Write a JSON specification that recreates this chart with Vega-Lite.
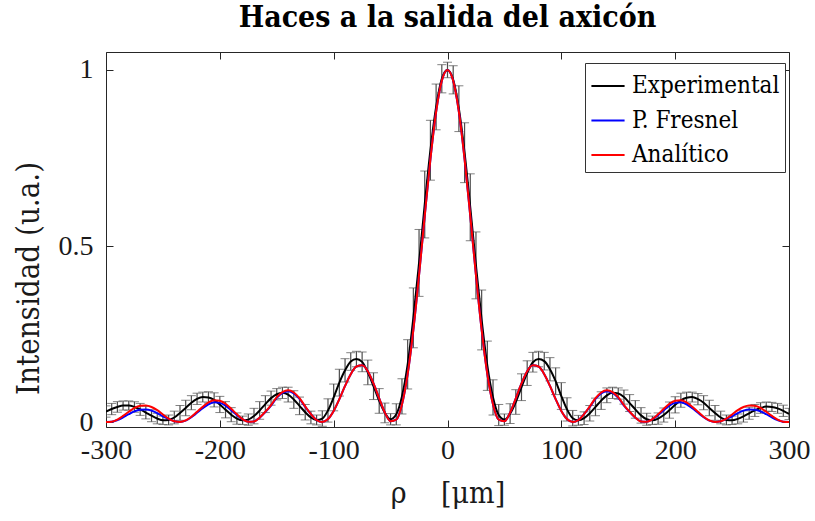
{
  "$schema": "https://vega.github.io/schema/vega-lite/v6.json",
  "width": 683,
  "height": 375,
  "autosize": {"type": "none"},
  "padding": {"left": 106, "top": 52, "right": 26, "bottom": 94},
  "background": "white",
  "config": {
    "font": "DejaVu Serif Condensed, DejaVu Serif",
    "view": {"stroke": "#262626", "strokeWidth": 1},
    "axis": {"grid": false, "domain": false, "tickColor": "#262626", "labelColor": "#1a1a1a", "titleColor": "#1a1a1a", "labelFont": "Liberation Serif", "titleFont": "DejaVu Serif Condensed, DejaVu Serif", "titleFontWeight": "normal", "labelFlush": false, "labelOverlap": false}
  },
  "title": {
    "text": "Haces a la salida del axicón",
    "font": "DejaVu Serif Condensed, DejaVu Serif",
    "fontSize": 30,
    "fontWeight": "bold",
    "color": "#000000",
    "anchor": "middle",
    "baseline": "alphabetic",
    "frame": "group",
    "offset": -5
  },
  "data": {
    "values": [
      {"rho": -300, "exp": 0.030, "err": 0.016, "fresnel": 0.0002, "analitico": 0.0002},
      {"rho": -295, "exp": 0.037, "err": 0.016, "fresnel": 0.0008, "analitico": 0.0011},
      {"rho": -290, "exp": 0.043, "err": 0.015, "fresnel": 0.0055, "analitico": 0.0072},
      {"rho": -285, "exp": 0.047, "err": 0.013, "fresnel": 0.0133, "analitico": 0.0175},
      {"rho": -280, "exp": 0.047, "err": 0.013, "fresnel": 0.0223, "analitico": 0.0293},
      {"rho": -275, "exp": 0.043, "err": 0.015, "fresnel": 0.0304, "analitico": 0.0400},
      {"rho": -270, "exp": 0.036, "err": 0.017, "fresnel": 0.0350, "analitico": 0.0461},
      {"rho": -265, "exp": 0.027, "err": 0.018, "fresnel": 0.0358, "analitico": 0.0471},
      {"rho": -260, "exp": 0.018, "err": 0.017, "fresnel": 0.0325, "analitico": 0.0428},
      {"rho": -255, "exp": 0.010, "err": 0.015, "fresnel": 0.0256, "analitico": 0.0337},
      {"rho": -250, "exp": 0.005, "err": 0.012, "fresnel": 0.0164, "analitico": 0.0216},
      {"rho": -245, "exp": 0.006, "err": 0.014, "fresnel": 0.0090, "analitico": 0.0100},
      {"rho": -240, "exp": 0.013, "err": 0.018, "fresnel": 0.0021, "analitico": 0.0023},
      {"rho": -235, "exp": 0.026, "err": 0.021, "fresnel": 0.0001, "analitico": 0.0001},
      {"rho": -230, "exp": 0.040, "err": 0.022, "fresnel": 0.0041, "analitico": 0.0046},
      {"rho": -225, "exp": 0.055, "err": 0.020, "fresnel": 0.0138, "analitico": 0.0153},
      {"rho": -220, "exp": 0.066, "err": 0.016, "fresnel": 0.0264, "analitico": 0.0293},
      {"rho": -215, "exp": 0.071, "err": 0.014, "fresnel": 0.0393, "analitico": 0.0437},
      {"rho": -210, "exp": 0.070, "err": 0.016, "fresnel": 0.0504, "analitico": 0.0560},
      {"rho": -205, "exp": 0.063, "err": 0.020, "fresnel": 0.0560, "analitico": 0.0622},
      {"rho": -200, "exp": 0.050, "err": 0.023, "fresnel": 0.0545, "analitico": 0.0605},
      {"rho": -195, "exp": 0.035, "err": 0.023, "fresnel": 0.0468, "analitico": 0.0520},
      {"rho": -190, "exp": 0.021, "err": 0.020, "fresnel": 0.0338, "analitico": 0.0376},
      {"rho": -185, "exp": 0.010, "err": 0.016, "fresnel": 0.0197, "analitico": 0.0219},
      {"rho": -180, "exp": 0.005, "err": 0.012, "fresnel": 0.0080, "analitico": 0.0082},
      {"rho": -175, "exp": 0.007, "err": 0.016, "fresnel": 0.0006, "analitico": 0.0006},
      {"rho": -170, "exp": 0.017, "err": 0.022, "fresnel": 0.0017, "analitico": 0.0018},
      {"rho": -165, "exp": 0.033, "err": 0.025, "fresnel": 0.0125, "analitico": 0.0129},
      {"rho": -160, "exp": 0.051, "err": 0.024, "fresnel": 0.0286, "analitico": 0.0295},
      {"rho": -155, "exp": 0.068, "err": 0.020, "fresnel": 0.0469, "analitico": 0.0484},
      {"rho": -150, "exp": 0.079, "err": 0.016, "fresnel": 0.0688, "analitico": 0.0709},
      {"rho": -145, "exp": 0.083, "err": 0.016, "fresnel": 0.0827, "analitico": 0.0853},
      {"rho": -140, "exp": 0.078, "err": 0.021, "fresnel": 0.0874, "analitico": 0.0901},
      {"rho": -135, "exp": 0.064, "err": 0.025, "fresnel": 0.0816, "analitico": 0.0841},
      {"rho": -130, "exp": 0.046, "err": 0.025, "fresnel": 0.0657, "analitico": 0.0677},
      {"rho": -125, "exp": 0.028, "err": 0.022, "fresnel": 0.0433, "analitico": 0.0446},
      {"rho": -120, "exp": 0.013, "err": 0.018, "fresnel": 0.0227, "analitico": 0.0227},
      {"rho": -115, "exp": 0.006, "err": 0.014, "fresnel": 0.0059, "analitico": 0.0059},
      {"rho": -110, "exp": 0.010, "err": 0.022, "fresnel": 0.0000, "analitico": 0.0000},
      {"rho": -105, "exp": 0.033, "err": 0.033, "fresnel": 0.0085, "analitico": 0.0085},
      {"rho": -100, "exp": 0.070, "err": 0.038, "fresnel": 0.0315, "analitico": 0.0315},
      {"rho": -95, "exp": 0.112, "err": 0.038, "fresnel": 0.0652, "analitico": 0.0652},
      {"rho": -90, "exp": 0.147, "err": 0.033, "fresnel": 0.1028, "analitico": 0.1028},
      {"rho": -85, "exp": 0.172, "err": 0.025, "fresnel": 0.1360, "analitico": 0.1360},
      {"rho": -80, "exp": 0.179, "err": 0.022, "fresnel": 0.1577, "analitico": 0.1577},
      {"rho": -75, "exp": 0.171, "err": 0.028, "fresnel": 0.1611, "analitico": 0.1611},
      {"rho": -70, "exp": 0.141, "err": 0.035, "fresnel": 0.1445, "analitico": 0.1445},
      {"rho": -65, "exp": 0.102, "err": 0.038, "fresnel": 0.1096, "analitico": 0.1096},
      {"rho": -60, "exp": 0.060, "err": 0.035, "fresnel": 0.0676, "analitico": 0.0676},
      {"rho": -55, "exp": 0.026, "err": 0.028, "fresnel": 0.0268, "analitico": 0.0268},
      {"rho": -50, "exp": 0.008, "err": 0.016, "fresnel": 0.0023, "analitico": 0.0023},
      {"rho": -45, "exp": 0.022, "err": 0.030, "fresnel": 0.0067, "analitico": 0.0067},
      {"rho": -40, "exp": 0.073, "err": 0.050, "fresnel": 0.0501, "analitico": 0.0501},
      {"rho": -35, "exp": 0.164, "err": 0.070, "fresnel": 0.1362, "analitico": 0.1362},
      {"rho": -30, "exp": 0.296, "err": 0.085, "fresnel": 0.2620, "analitico": 0.2620},
      {"rho": -25, "exp": 0.452, "err": 0.095, "fresnel": 0.4171, "analitico": 0.4171},
      {"rho": -20, "exp": 0.618, "err": 0.095, "fresnel": 0.5855, "analitico": 0.5855},
      {"rho": -15, "exp": 0.772, "err": 0.085, "fresnel": 0.7467, "analitico": 0.7467},
      {"rho": -10, "exp": 0.895, "err": 0.065, "fresnel": 0.8807, "analitico": 0.8807},
      {"rho": -5, "exp": 0.975, "err": 0.040, "fresnel": 0.9691, "analitico": 0.9691},
      {"rho": 0, "exp": 1.000, "err": 0.022, "fresnel": 1.0000, "analitico": 1.0000},
      {"rho": 5, "exp": 0.972, "err": 0.040, "fresnel": 0.9691, "analitico": 0.9691},
      {"rho": 10, "exp": 0.890, "err": 0.065, "fresnel": 0.8807, "analitico": 0.8807},
      {"rho": 15, "exp": 0.765, "err": 0.085, "fresnel": 0.7467, "analitico": 0.7467},
      {"rho": 20, "exp": 0.610, "err": 0.095, "fresnel": 0.5855, "analitico": 0.5855},
      {"rho": 25, "exp": 0.445, "err": 0.095, "fresnel": 0.4171, "analitico": 0.4171},
      {"rho": 30, "exp": 0.290, "err": 0.085, "fresnel": 0.2620, "analitico": 0.2620},
      {"rho": 35, "exp": 0.160, "err": 0.070, "fresnel": 0.1362, "analitico": 0.1362},
      {"rho": 40, "exp": 0.070, "err": 0.050, "fresnel": 0.0501, "analitico": 0.0501},
      {"rho": 45, "exp": 0.020, "err": 0.030, "fresnel": 0.0067, "analitico": 0.0067},
      {"rho": 50, "exp": 0.007, "err": 0.016, "fresnel": 0.0023, "analitico": 0.0023},
      {"rho": 55, "exp": 0.024, "err": 0.028, "fresnel": 0.0268, "analitico": 0.0268},
      {"rho": 60, "exp": 0.057, "err": 0.035, "fresnel": 0.0676, "analitico": 0.0676},
      {"rho": 65, "exp": 0.099, "err": 0.038, "fresnel": 0.1096, "analitico": 0.1096},
      {"rho": 70, "exp": 0.139, "err": 0.035, "fresnel": 0.1445, "analitico": 0.1445},
      {"rho": 75, "exp": 0.170, "err": 0.028, "fresnel": 0.1611, "analitico": 0.1611},
      {"rho": 80, "exp": 0.179, "err": 0.022, "fresnel": 0.1577, "analitico": 0.1577},
      {"rho": 85, "exp": 0.173, "err": 0.025, "fresnel": 0.1360, "analitico": 0.1360},
      {"rho": 90, "exp": 0.150, "err": 0.033, "fresnel": 0.1028, "analitico": 0.1028},
      {"rho": 95, "exp": 0.116, "err": 0.038, "fresnel": 0.0652, "analitico": 0.0652},
      {"rho": 100, "exp": 0.074, "err": 0.038, "fresnel": 0.0315, "analitico": 0.0315},
      {"rho": 105, "exp": 0.036, "err": 0.033, "fresnel": 0.0085, "analitico": 0.0085},
      {"rho": 110, "exp": 0.011, "err": 0.022, "fresnel": 0.0000, "analitico": 0.0000},
      {"rho": 115, "exp": 0.005, "err": 0.014, "fresnel": 0.0059, "analitico": 0.0059},
      {"rho": 120, "exp": 0.011, "err": 0.018, "fresnel": 0.0227, "analitico": 0.0227},
      {"rho": 125, "exp": 0.025, "err": 0.022, "fresnel": 0.0433, "analitico": 0.0446},
      {"rho": 130, "exp": 0.043, "err": 0.025, "fresnel": 0.0657, "analitico": 0.0677},
      {"rho": 135, "exp": 0.061, "err": 0.025, "fresnel": 0.0816, "analitico": 0.0841},
      {"rho": 140, "exp": 0.076, "err": 0.021, "fresnel": 0.0874, "analitico": 0.0901},
      {"rho": 145, "exp": 0.083, "err": 0.016, "fresnel": 0.0827, "analitico": 0.0853},
      {"rho": 150, "exp": 0.081, "err": 0.016, "fresnel": 0.0688, "analitico": 0.0709},
      {"rho": 155, "exp": 0.071, "err": 0.020, "fresnel": 0.0469, "analitico": 0.0484},
      {"rho": 160, "exp": 0.054, "err": 0.024, "fresnel": 0.0286, "analitico": 0.0295},
      {"rho": 165, "exp": 0.036, "err": 0.025, "fresnel": 0.0125, "analitico": 0.0129},
      {"rho": 170, "exp": 0.019, "err": 0.022, "fresnel": 0.0017, "analitico": 0.0018},
      {"rho": 175, "exp": 0.008, "err": 0.017, "fresnel": 0.0006, "analitico": 0.0006},
      {"rho": 180, "exp": 0.005, "err": 0.012, "fresnel": 0.0080, "analitico": 0.0082},
      {"rho": 185, "exp": 0.010, "err": 0.016, "fresnel": 0.0197, "analitico": 0.0219},
      {"rho": 190, "exp": 0.020, "err": 0.020, "fresnel": 0.0338, "analitico": 0.0376},
      {"rho": 195, "exp": 0.034, "err": 0.023, "fresnel": 0.0468, "analitico": 0.0520},
      {"rho": 200, "exp": 0.049, "err": 0.023, "fresnel": 0.0545, "analitico": 0.0605},
      {"rho": 205, "exp": 0.062, "err": 0.020, "fresnel": 0.0560, "analitico": 0.0622},
      {"rho": 210, "exp": 0.069, "err": 0.016, "fresnel": 0.0504, "analitico": 0.0560},
      {"rho": 215, "exp": 0.071, "err": 0.014, "fresnel": 0.0393, "analitico": 0.0437},
      {"rho": 220, "exp": 0.065, "err": 0.016, "fresnel": 0.0264, "analitico": 0.0293},
      {"rho": 225, "exp": 0.055, "err": 0.020, "fresnel": 0.0138, "analitico": 0.0153},
      {"rho": 230, "exp": 0.040, "err": 0.022, "fresnel": 0.0041, "analitico": 0.0046},
      {"rho": 235, "exp": 0.026, "err": 0.021, "fresnel": 0.0001, "analitico": 0.0001},
      {"rho": 240, "exp": 0.013, "err": 0.018, "fresnel": 0.0021, "analitico": 0.0023},
      {"rho": 245, "exp": 0.006, "err": 0.014, "fresnel": 0.0090, "analitico": 0.0100},
      {"rho": 250, "exp": 0.005, "err": 0.012, "fresnel": 0.0164, "analitico": 0.0216},
      {"rho": 255, "exp": 0.009, "err": 0.014, "fresnel": 0.0256, "analitico": 0.0337},
      {"rho": 260, "exp": 0.016, "err": 0.016, "fresnel": 0.0325, "analitico": 0.0428},
      {"rho": 265, "exp": 0.025, "err": 0.017, "fresnel": 0.0358, "analitico": 0.0471},
      {"rho": 270, "exp": 0.033, "err": 0.017, "fresnel": 0.0350, "analitico": 0.0461},
      {"rho": 275, "exp": 0.040, "err": 0.015, "fresnel": 0.0304, "analitico": 0.0400},
      {"rho": 280, "exp": 0.044, "err": 0.013, "fresnel": 0.0223, "analitico": 0.0293},
      {"rho": 285, "exp": 0.043, "err": 0.013, "fresnel": 0.0133, "analitico": 0.0175},
      {"rho": 290, "exp": 0.039, "err": 0.014, "fresnel": 0.0055, "analitico": 0.0072},
      {"rho": 295, "exp": 0.032, "err": 0.016, "fresnel": 0.0008, "analitico": 0.0011},
      {"rho": 300, "exp": 0.023, "err": 0.016, "fresnel": 0.0002, "analitico": 0.0002}
    ]
  },
  "resolve": {"axis": {"x": "independent", "y": "independent"}},
  "layer": [
    {
      "layer": [
        {
          "mark": {"type": "errorbar", "ticks": {"size": 9, "color": "#4d4d4d"}, "rule": {"color": "#4d4d4d", "strokeWidth": 1.2}, "clip": true},
          "encoding": {
            "x": {"field": "rho", "type": "quantitative", "title": "ρ\u00a0\u00a0\u00a0\u00a0[μm]"},
            "y": {"field": "exp", "type": "quantitative", "title": "Intensidad (u.a.)"},
            "yError": {"field": "err"}
          }
        },
        {
          "mark": {"type": "line", "strokeWidth": 2, "interpolate": "monotone", "clip": true},
          "encoding": {
            "x": {"field": "rho", "type": "quantitative", "title": "ρ\u00a0\u00a0\u00a0\u00a0[μm]"},
            "y": {"field": "exp", "type": "quantitative", "title": "Intensidad (u.a.)"},
            "color": {"datum": "Experimental"}
          }
        },
        {
          "mark": {"type": "line", "strokeWidth": 2, "interpolate": "monotone", "clip": true},
          "encoding": {
            "x": {"field": "rho", "type": "quantitative", "title": "ρ\u00a0\u00a0\u00a0\u00a0[μm]"},
            "y": {"field": "fresnel", "type": "quantitative", "title": "Intensidad (u.a.)"},
            "color": {"datum": "P. Fresnel"}
          }
        },
        {
          "mark": {"type": "line", "strokeWidth": 2, "interpolate": "monotone", "clip": true},
          "encoding": {
            "x": {
              "field": "rho", "type": "quantitative", "title": "ρ\u00a0\u00a0\u00a0\u00a0[μm]",
              "scale": {"domain": [-300, 300], "nice": false, "zero": false},
              "axis": {"orient": "bottom", "values": [-300, -200, -100, 0, 100, 200, 300], "labelExpr": "datum.value < 0 ? '-' + abs(datum.value) : '' + datum.value", "tickSize": -7, "labelPadding": 16, "labelFontSize": 28, "titleFontSize": 30, "titlePadding": 14}
            },
            "y": {
              "field": "analitico", "type": "quantitative", "title": "Intensidad (u.a.)",
              "scale": {"domain": [-0.014, 1.051], "nice": false, "zero": false},
              "axis": {"orient": "left", "values": [0, 0.5, 1], "format": "~g", "tickSize": -7, "labelPadding": 20, "labelFontSize": 28, "titleFontSize": 31, "titleX": -77, "titleY": 226, "titleAngle": 270, "titleAlign": "center", "titleBaseline": "middle"}
            },
            "color": {
              "datum": "Analítico",
              "scale": {"domain": ["Experimental", "P. Fresnel", "Analítico"], "range": ["#000000", "#0000ff", "#ff0000"]},
              "legend": {
                "title": null, "orient": "none", "legendX": 479, "legendY": 11,
                "symbolType": "stroke", "symbolSize": 1100, "symbolStrokeWidth": 2,
                "labelFontSize": 24, "labelFont": "DejaVu Serif Condensed, DejaVu Serif", "labelColor": "#000000", "labelOffset": 6,
                "rowPadding": 4.5, "padding": 5,
                "strokeColor": "#333333", "fillColor": "#ffffff"
              }
            }
          }
        }
      ]
    },
    {
      "mark": {"type": "line", "opacity": 0},
      "encoding": {
        "x": {"field": "rho", "type": "quantitative", "axis": {"orient": "top", "values": [-300, -200, -100, 0, 100, 200, 300], "labels": false, "tickSize": -7, "title": null}},
        "y": {"field": "exp", "type": "quantitative", "axis": {"orient": "right", "values": [0, 0.5, 1], "labels": false, "tickSize": -7, "title": null}}
      }
    }
  ]
}
